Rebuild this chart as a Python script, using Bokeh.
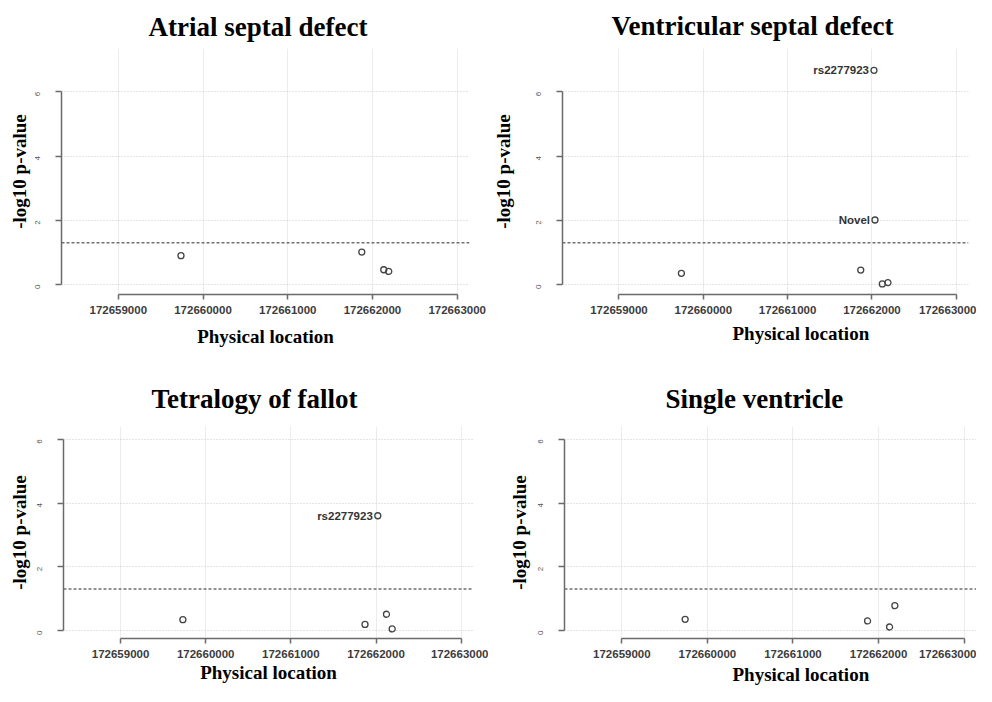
import math
from bokeh.plotting import figure
from bokeh.models import Span, FixedTicker, Range1d, Title, ColumnDataSource, LabelSet
from bokeh.layouts import column, row
from bokeh.embed import file_html
from bokeh.resources import INLINE
from bokeh.core.properties import value

# ---------------- data ----------------
titles = ["Atrial septal defect", "Ventricular septal defect",
          "Tetralogy of fallot", "Single ventricle"]

asd_pos = [172659740, 172661874, 172662133, 172662192]
asd_logp = [0.90, 1.01, 0.46, 0.41]
asd_snp = ["", "", "", ""]

vsd_pos = [172659740, 172661867, 172662024, 172662036, 172662123, 172662190]
vsd_logp = [0.35, 0.45, 6.67, 2.01, 0.02, 0.06]
vsd_snp = ["", "", "rs2277923", "Novel", "", ""]

tof_pos = [172659732, 172661871, 172662021, 172662123, 172662190]
tof_logp = [0.34, 0.19, 3.60, 0.51, 0.05]
tof_snp = ["", "", "rs2277923", "", ""]

sv_pos = [172659740, 172661872, 172662129, 172662191]
sv_logp = [0.35, 0.30, 0.11, 0.78]
sv_snp = ["", "", "", ""]

x_ticks = [172659000, 172660000, 172661000, 172662000, 172663000]
x_tick_labels = ["172659000", "172660000", "172661000", "172662000", "172663000"]
y_ticks = [0, 2, 4, 6]
y_tick_labels = ["0", "2", "4", "6"]
threshold = -math.log10(0.05)
x_label = "Physical location"
y_label = "-log10 p-value"

X_RANGE = (172658330, 172663145)
TOP_Y = (-0.31, 7.35)
BOT_Y = (-0.25, 6.40)

SERIF = "Liberation Serif"
SANS = "Liberation Sans"


def make_panel(title, xs, ys, snp, y_range, w, h, bl, br, bt, bb,
               ylab_standoff, title_offset, title_standoff, title_valign,
               xlab_mode, xlab_offset=0, xlab_standoff=10, xtick_standoff=6):
    p = figure(width=w, height=h, output_backend="svg", toolbar_location=None,
               x_range=Range1d(*X_RANGE), y_range=Range1d(*y_range),
               min_border_left=bl, min_border_right=br,
               min_border_top=bt, min_border_bottom=bb)
    p.outline_line_color = None
    p.background_fill_color = "white"
    p.border_fill_color = "white"

    p.title.text = title
    p.title.align = "left"
    p.title.vertical_align = title_valign
    p.title.offset = title_offset
    p.title.standoff = title_standoff
    p.title.text_font = SERIF
    p.title.text_font_size = "27px"
    p.title.text_font_style = "bold"
    p.title.text_color = "#000000"

    # grids
    p.xgrid.ticker = FixedTicker(ticks=x_ticks)
    p.ygrid.ticker = FixedTicker(ticks=y_ticks)
    p.xgrid.grid_line_color = "#ececec"
    p.xgrid.grid_line_width = 1
    p.ygrid.grid_line_color = "#c8c8c8"
    p.ygrid.grid_line_dash = "1 2"
    p.ygrid.grid_line_width = 1

    # x axis
    xa = p.xaxis[0]
    xa.ticker = FixedTicker(ticks=x_ticks)
    xa.major_label_overrides = dict(zip(x_ticks, x_tick_labels))
    xa.bounds = (x_ticks[0], x_ticks[-1])
    xa.axis_line_color = "#6a6a6a"
    xa.axis_line_width = 1.5
    xa.major_tick_line_color = "#6a6a6a"
    xa.major_tick_line_width = 1.5
    xa.major_tick_in = 0
    xa.major_tick_out = 5
    xa.minor_tick_line_color = None
    xa.major_label_standoff = xtick_standoff
    xa.major_label_text_font = SANS
    xa.major_label_text_font_size = "11.5px"
    xa.major_label_text_font_style = "bold"
    xa.major_label_text_color = "#3c3c3c"
    if xlab_mode == "axis":
        xa.axis_label = x_label
        xa.axis_label_standoff = xlab_standoff
        xa.axis_label_text_font = SERIF
        xa.axis_label_text_font_size = "19px"
        xa.axis_label_text_font_style = "bold"
        xa.axis_label_text_color = "#000000"
    else:
        t = Title(text=x_label, align="left", offset=xlab_offset,
                  standoff=xlab_standoff, text_font=SERIF,
                  text_font_size="19px", text_font_style="bold",
                  text_color="#000000")
        p.add_layout(t, "below")

    # y axis
    ya = p.yaxis[0]
    ya.ticker = FixedTicker(ticks=y_ticks)
    ya.major_label_overrides = dict(zip(y_ticks, y_tick_labels))
    ya.bounds = (y_ticks[0], y_ticks[-1])
    ya.axis_line_color = "#6a6a6a"
    ya.axis_line_width = 1.5
    ya.major_tick_line_color = "#6a6a6a"
    ya.major_tick_line_width = 1.5
    ya.major_tick_in = 0
    ya.major_tick_out = 6
    ya.minor_tick_line_color = None
    ya.major_label_orientation = math.pi / 2
    ya.major_label_standoff = 18
    ya.major_label_text_font = SANS
    ya.major_label_text_font_size = "8px"
    ya.major_label_text_color = "#555555"
    ya.axis_label = y_label
    ya.axis_label_standoff = ylab_standoff
    ya.axis_label_text_font = SERIF
    ya.axis_label_text_font_size = "19px"
    ya.axis_label_text_font_style = "bold"
    ya.axis_label_text_color = "#000000"

    # significance threshold
    p.add_layout(Span(location=threshold, dimension="width",
                      line_color="#707070", line_width=1.5, line_dash="3 2"))

    src = ColumnDataSource(dict(x=xs, y=ys, snp=snp))
    p.scatter("x", "y", source=src, marker="circle", size=6,
              fill_color=None, line_color="#444444", line_width=1.3)
    p.add_layout(LabelSet(x="x", y="y", text="snp", source=src,
                          x_offset=-5, text_align="right", text_baseline="middle",
                          text_font=value(SANS), text_font_size=value("11.5px"),
                          text_font_style="bold", text_color="#333333"))
    return p


p1 = make_panel(titles[0], asd_pos, asd_logp, asd_snp, TOP_Y, 488, 349,
                61, 19, 45, 53,
                ylab_standoff=0, title_offset=87, title_standoff=9, title_valign="top",
                xlab_mode="axis", xlab_standoff=9, xtick_standoff=6)
p2 = make_panel(titles[1], vsd_pos, vsd_logp, vsd_snp, TOP_Y, 488, 349,
                74, 8, 48, 51,
                ylab_standoff=17, title_offset=49, title_standoff=12, title_valign="top",
                xlab_mode="title", xlab_offset=170, xlab_standoff=8, xtick_standoff=6)
p3 = make_panel(titles[2], tof_pos, tof_logp, tof_snp, BOT_Y, 488, 337,
                63, 15, 77, 45,
                ylab_standoff=2, title_offset=88, title_standoff=25, title_valign="bottom",
                xlab_mode="axis", xlab_standoff=1, xtick_standoff=6)
p4 = make_panel(titles[3], sv_pos, sv_logp, sv_snp, BOT_Y, 488, 337,
                76, 0, 77, 45,
                ylab_standoff=3, title_offset=101, title_standoff=25, title_valign="bottom",
                xlab_mode="title", xlab_offset=168, xlab_standoff=3, xtick_standoff=6)

layout = column(row(p1, p2), row(p3, p4))

open("out.html", "w").write(file_html(layout, INLINE))
